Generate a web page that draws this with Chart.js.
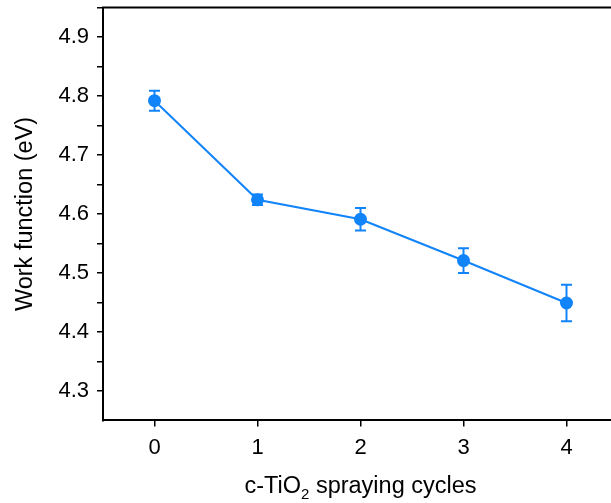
<!DOCTYPE html>
<html>
<head>
<meta charset="utf-8">
<script src="https://cdn.jsdelivr.net/npm/chart.js@4.4.0/dist/chart.umd.min.js"></script>
<style>
  html, body { margin: 0; padding: 0; background: #fff; overflow: hidden; }
  #outer { width: 611px; height: 503px; overflow: hidden; position: relative; }
  #wrap { width: 640px; height: 503px; position: absolute; left: 0; top: 0; }
</style>
</head>
<body>
<div id="outer"><div id="wrap"><canvas id="myChart"></canvas></div></div>
<script>
// data
var cycles = [0, 1, 2, 3, 4];
var workFn = [4.792, 4.624, 4.591, 4.521, 4.449];
var errBar = [0.017, 0.009, 0.019, 0.021, 0.031];
var xTicks = [0, 1, 2, 3, 4];
var yTicks = [4.3, 4.35, 4.4, 4.45, 4.5, 4.55, 4.6, 4.65, 4.7, 4.75, 4.8, 4.85, 4.9, 4.95];
var yLabels = [4.3, 4.4, 4.5, 4.6, 4.7, 4.8, 4.9];

var blue = 'rgb(18,132,250)';
var fontFam = 'Arial, "Liberation Sans", sans-serif';

// error bars + top frame + x title with subscript
var extras = {
    id: 'extras',
    beforeDatasetsDraw: function (chart) {
        var ctx = chart.ctx;
        var xs = chart.scales.x, ys = chart.scales.y;
        ctx.save();
        ctx.strokeStyle = blue;
        ctx.lineWidth = 2;
        for (var i = 0; i < cycles.length; i++) {
            var x = xs.getPixelForValue(cycles[i]);
            var y1 = ys.getPixelForValue(workFn[i] + errBar[i]);
            var y2 = ys.getPixelForValue(workFn[i] - errBar[i]);
            ctx.beginPath();
            ctx.moveTo(x, y1); ctx.lineTo(x, y2);
            ctx.moveTo(x - 5.5, y1); ctx.lineTo(x + 5.5, y1);
            ctx.moveTo(x - 5.5, y2); ctx.lineTo(x + 5.5, y2);
            ctx.stroke();
        }
        ctx.restore();
    },
    afterDraw: function (chart) {
        var ctx = chart.ctx;
        var a = chart.chartArea;
        ctx.save();
        ctx.strokeStyle = '#000';
        ctx.lineWidth = 2;
        ctx.beginPath();
        ctx.moveTo(a.left - 1, a.top);
        ctx.lineTo(a.right + 20, a.top);
        ctx.stroke();

        // x axis title: c-TiO2 spraying cycles
        var main = '23.5px ' + fontFam, sub = '15px ' + fontFam;
        var p1 = 'c-TiO', p2 = '2', p3 = ' spraying cycles';
        ctx.font = main;
        var w1 = ctx.measureText(p1).width, w3 = ctx.measureText(p3).width;
        ctx.font = sub;
        var w2 = ctx.measureText(p2).width;
        var total = w1 + w2 + w3;
        var cx = (a.left + a.right) / 2;
        var x0 = cx - total / 2, base = 493;
        ctx.fillStyle = '#000';
        ctx.textBaseline = 'alphabetic';
        ctx.textAlign = 'left';
        ctx.font = main;
        ctx.fillText(p1, x0, base);
        ctx.font = sub;
        ctx.fillText(p2, x0 + w1, base + 6);
        ctx.font = main;
        ctx.fillText(p3, x0 + w1 + w2, base);
        ctx.restore();
    }
};

var ctx = document.getElementById('myChart').getContext('2d');
var chart = new Chart(ctx, {
    type: 'line',
    data: {
        datasets: [{
            data: cycles.map(function (c, i) { return {x: c, y: workFn[i]}; }),
            borderColor: blue,
            backgroundColor: blue,
            borderWidth: 2,
            pointRadius: 5.5,
            pointHoverRadius: 5.5,
            tension: 0
        }]
    },
    options: {
        responsive: true,
        maintainAspectRatio: false,
        animation: false,
        layout: { padding: { left: 0, top: 6, right: 22, bottom: 0 } },
        plugins: {
            legend: { display: false },
            tooltip: { enabled: false }
        },
        scales: {
            x: {
                type: 'linear',
                min: -0.5,
                max: 4.5,
                afterBuildTicks: function (scale) {
                    scale.ticks = xTicks.map(function (v) { return {value: v}; });
                },
                afterFit: function (scale) {
                    scale.height = 82.6;
                    scale.paddingLeft = 0; scale.paddingRight = 0;
                },
                ticks: {
                    color: '#000',
                    font: { family: fontFam, size: 22 },
                    padding: 8,
                    maxRotation: 0,
                    callback: function (v) { return String(v); }
                },
                grid: { drawOnChartArea: false, drawTicks: true, tickLength: 6, color: '#000', lineWidth: 1.5 },
                border: { color: '#000', width: 2 }
            },
            y: {
                min: 4.25,
                max: 4.95,
                afterBuildTicks: function (scale) {
                    scale.ticks = yTicks.map(function (v) { return {value: v}; });
                },
                afterFit: function (scale) {
                    scale.width = 103;
                    scale.paddingTop = 0; scale.paddingBottom = 0;
                },
                title: {
                    display: true,
                    text: 'Work function (eV)',
                    color: '#000',
                    font: { family: fontFam, size: 23.5 },
                    padding: { top: 11, bottom: 0 }
                },
                ticks: {
                    color: '#000',
                    font: { family: fontFam, size: 22 },
                    padding: 8,
                    autoSkip: false,
                    callback: function (v) {
                        for (var i = 0; i < yLabels.length; i++) {
                            if (Math.abs(yLabels[i] - v) < 1e-6) return yLabels[i].toFixed(1);
                        }
                        return '';
                    }
                },
                grid: { drawOnChartArea: false, drawTicks: true, tickLength: 6, color: '#000', lineWidth: 1.5 },
                border: { color: '#000', width: 2 }
            }
        }
    },
    plugins: [extras]
});
</script>
</body>
</html>
